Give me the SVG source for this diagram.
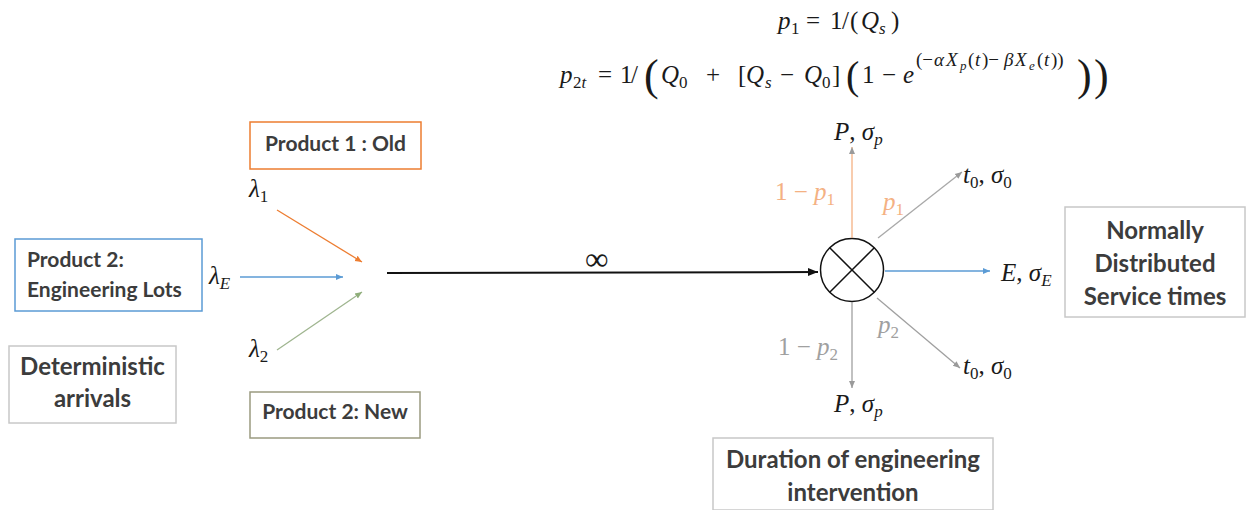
<svg xmlns="http://www.w3.org/2000/svg" width="1246" height="510" viewBox="0 0 1246 510">
<defs>
<style>
.box{fill:#fff;stroke-width:1.5}
.lbl{font-family:Lato,"Liberation Sans",sans-serif;font-weight:bold;fill:#3c3c3c}
.m{font-family:"Liberation Serif","DejaVu Serif",serif;font-size:25px;fill:#1a1a1a}
.i{font-style:italic}
.s{font-size:17px}
.ss{font-size:13px}
.big{font-size:44px}
.mid{font-size:40px}
.sup{font-size:19px}
</style>
<marker id="aO" markerWidth="8" markerHeight="8" refX="7" refY="4" orient="auto" markerUnits="userSpaceOnUse"><path d="M0,1 L7,4 L0,7 Z" fill="#ED7D31"/></marker>
<marker id="aB" markerWidth="8" markerHeight="8" refX="7" refY="4" orient="auto" markerUnits="userSpaceOnUse"><path d="M0,1 L7,4 L0,7 Z" fill="#5B9BD5"/></marker>
<marker id="aG" markerWidth="8" markerHeight="8" refX="7" refY="4" orient="auto" markerUnits="userSpaceOnUse"><path d="M0,1 L7,4 L0,7 Z" fill="#9a9a9a"/></marker>
<marker id="aN" markerWidth="8" markerHeight="8" refX="7" refY="4" orient="auto" markerUnits="userSpaceOnUse"><path d="M0,1 L7,4 L0,7 Z" fill="#8fae7a"/></marker>
<marker id="aK" markerWidth="12" markerHeight="10" refX="10" refY="5" orient="auto" markerUnits="userSpaceOnUse"><path d="M0,1 L10,5 L0,9 Z" fill="#111"/></marker>
</defs>
<rect width="1246" height="510" fill="#fff"/>

<g id="equations">
<text class="m"><tspan class="i" x="778" y="29">p</tspan><tspan class="s" x="791" y="34">1</tspan><tspan x="806" y="29">=</tspan><tspan x="830" y="29">1</tspan><tspan x="842" y="29">/</tspan><tspan x="850" y="29">(</tspan><tspan class="i" x="861" y="29">Q</tspan><tspan class="s i" x="879" y="34">s</tspan><tspan x="891" y="29">)</tspan></text>
<text class="m"><tspan class="i" x="560" y="83">p</tspan><tspan class="s" x="573" y="88">2</tspan><tspan class="s i">t</tspan><tspan x="598" y="83">=</tspan><tspan x="620" y="83">1</tspan><tspan x="631" y="83">/</tspan><tspan class="big" x="644" y="90">(</tspan><tspan class="i" x="661" y="83">Q</tspan><tspan class="s" x="679" y="88">0</tspan><tspan x="706" y="83">+</tspan><tspan x="738" y="83">[</tspan><tspan class="i" x="746" y="83">Q</tspan><tspan class="s i" x="765" y="88">s</tspan><tspan x="780" y="83">−</tspan><tspan class="i" x="804" y="83">Q</tspan><tspan class="s" x="822" y="88">0</tspan><tspan x="832" y="83">]</tspan><tspan class="mid" x="846" y="89">(</tspan><tspan x="862" y="83">1</tspan><tspan x="882" y="83">−</tspan><tspan class="i" x="903" y="83">e</tspan><tspan class="sup" x="916" y="66">(−</tspan><tspan class="sup i" x="934" y="66">α</tspan><tspan class="sup i" x="946" y="66">X</tspan><tspan class="ss i" x="960" y="70">p</tspan><tspan class="sup" x="968" y="66">(</tspan><tspan class="sup i" x="975" y="66">t</tspan><tspan class="sup" x="982" y="66">)−</tspan><tspan class="sup i" x="1004" y="66">β</tspan><tspan class="sup i" x="1015" y="66">X</tspan><tspan class="ss i" x="1029" y="70">e</tspan><tspan class="sup" x="1037" y="66">(</tspan><tspan class="sup i" x="1044" y="66">t</tspan><tspan class="sup" x="1051" y="66">))</tspan><tspan class="big" x="1077" y="90">)</tspan><tspan class="big" x="1094" y="90">)</tspan></text>
</g>

<g id="product1-old">
<rect class="box" x="250" y="122" width="171" height="47" stroke="#ED7D31"/>
<text class="lbl" x="335.5" y="151" font-size="21" text-anchor="middle">Product 1 : Old</text>
</g>
<g id="product2-eng">
<rect class="box" x="15" y="239" width="187" height="72" stroke="#5B9BD5"/>
<text class="lbl" x="27" y="267" font-size="21">Product 2:</text>
<text class="lbl" x="27" y="297" font-size="21">Engineering Lots</text>
</g>
<g id="deterministic">
<rect class="box" x="9" y="346" width="167" height="77" stroke="#c8c8c8"/>
<text class="lbl" x="92.5" y="375" font-size="24" text-anchor="middle">Deterministic</text>
<text class="lbl" x="92.5" y="407" font-size="24" text-anchor="middle">arrivals</text>
</g>
<g id="product2-new">
<rect class="box" x="250" y="392" width="170" height="46" stroke="#9a9a80"/>
<text class="lbl" x="335" y="419" font-size="21" text-anchor="middle">Product 2: New</text>
</g>
<g id="normally">
<rect class="box" x="1065" y="207" width="180" height="110" stroke="#c8c8c8"/>
<text class="lbl" x="1155" y="239" font-size="24" text-anchor="middle">Normally</text>
<text class="lbl" x="1155" y="272" font-size="24" text-anchor="middle">Distributed</text>
<text class="lbl" x="1155" y="305" font-size="24" text-anchor="middle">Service times</text>
</g>
<g id="duration">
<rect class="box" x="713" y="438" width="280" height="72" stroke="#c8c8c8"/>
<text class="lbl" x="853" y="468" font-size="24" text-anchor="middle">Duration of engineering</text>
<text class="lbl" x="853" y="501" font-size="24" text-anchor="middle">intervention</text>
</g>

<g id="server">
<circle cx="852" cy="270" r="31.5" fill="#fff" stroke="#111" stroke-width="1.5"/>
<line x1="829.7" y1="247.7" x2="874.3" y2="292.3" stroke="#111" stroke-width="1.5"/>
<line x1="874.3" y1="247.7" x2="829.7" y2="292.3" stroke="#111" stroke-width="1.5"/>
</g>

<g id="connectors" fill="none" stroke-width="1.3">
<line x1="277" y1="210" x2="362" y2="262" stroke="#ED7D31" marker-end="url(#aO)"/>
<line x1="240" y1="277" x2="343" y2="277" stroke="#5B9BD5" marker-end="url(#aB)"/>
<line x1="277" y1="350" x2="362" y2="292" stroke="#9fb58f" marker-end="url(#aN)"/>
<line x1="387" y1="273" x2="818" y2="272" stroke="#111" stroke-width="2" marker-end="url(#aK)"/>
<line x1="852" y1="238" x2="852" y2="147" stroke="#F4B183" marker-end="url(#aG)"/>
<line x1="878" y1="238" x2="962" y2="172" stroke="#a8a8a8" marker-end="url(#aG)"/>
<line x1="885" y1="271" x2="990" y2="271" stroke="#5B9BD5" marker-end="url(#aB)"/>
<line x1="877" y1="298" x2="960" y2="368" stroke="#a0a0a0" marker-end="url(#aG)"/>
<line x1="852" y1="302" x2="852" y2="388" stroke="#a0a0a0" marker-end="url(#aG)"/>
</g>

<g id="labels">
<text class="m" x="249" y="197"><tspan class="i">λ</tspan><tspan class="s" dy="5">1</tspan></text>
<text class="m" x="209" y="284"><tspan class="i">λ</tspan><tspan class="s i" dy="5">E</tspan></text>
<text class="m" x="249" y="357"><tspan class="i">λ</tspan><tspan class="s" dy="5">2</tspan></text>
<text class="m" x="585" y="270" style="font-size:33px">∞</text>
<text class="m" x="834" y="140"><tspan class="i">P</tspan>, <tspan class="i">σ</tspan><tspan class="s i" dy="5">p</tspan></text>
<text class="m" x="834" y="412"><tspan class="i">P</tspan>, <tspan class="i">σ</tspan><tspan class="s i" dy="5">p</tspan></text>
<text class="m" x="963" y="183"><tspan class="i">t</tspan><tspan class="s" dy="5">0</tspan><tspan dy="-5">, </tspan><tspan class="i">σ</tspan><tspan class="s" dy="5">0</tspan></text>
<text class="m" x="963" y="374"><tspan class="i">t</tspan><tspan class="s" dy="5">0</tspan><tspan dy="-5">, </tspan><tspan class="i">σ</tspan><tspan class="s" dy="5">0</tspan></text>
<text class="m" x="1001" y="281"><tspan class="i">E</tspan>, <tspan class="i">σ</tspan><tspan class="s i" dy="5">E</tspan></text>
<text class="m" x="775" y="200" style="fill:#F4B183">1 − <tspan class="i">p</tspan><tspan class="s" dy="5">1</tspan></text>
<text class="m" x="883" y="210" style="fill:#F4B183"><tspan class="i">p</tspan><tspan class="s" dy="5">1</tspan></text>
<text class="m" x="878" y="333" style="fill:#a0a0a0"><tspan class="i">p</tspan><tspan class="s" dy="5">2</tspan></text>
<text class="m" x="778" y="355" style="fill:#a0a0a0">1 − <tspan class="i">p</tspan><tspan class="s" dy="5">2</tspan></text>
</g>
</svg>
